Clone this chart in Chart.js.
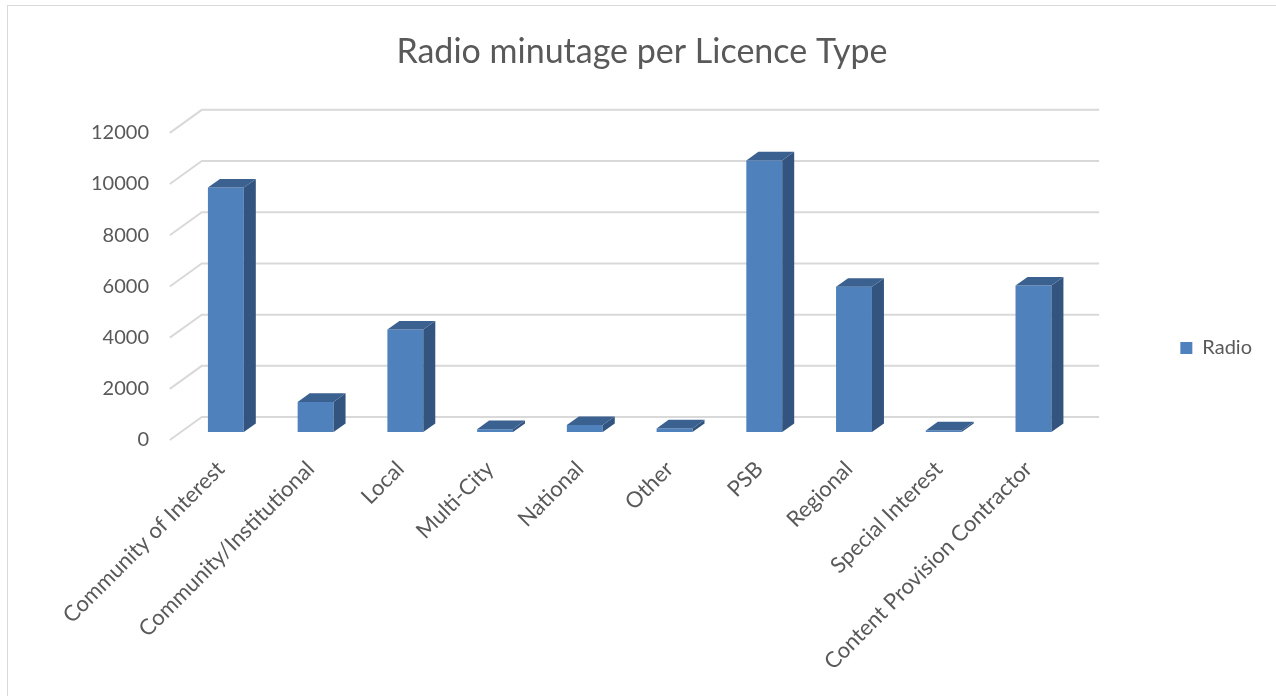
<!DOCTYPE html>
<html lang="en">
<head>
    <meta charset="UTF-8">
    <title>Radio minutage per Licence Type</title>
    <script src="https://cdn.jsdelivr.net/npm/chart.js"></script>
    <style>
        body { margin: 0; background: #ffffff; }
    </style>
</head>
<body>
    <canvas id="minutageChart" width="1276" height="696"></canvas>

    <script>
        // Licence types and radio minutes per type
        const licenceTypes = [
            'Community of Interest',
            'Community/Institutional',
            'Local',
            'Multi-City',
            'National',
            'Other',
            'PSB',
            'Regional',
            'Special Interest',
            'Content Provision Contractor'
        ];
        const radioMinutes = [9550, 1175, 4000, 110, 270, 140, 10610, 5670, 60, 5720];
        const yTicks = [0, 2000, 4000, 6000, 8000, 10000, 12000];

        const textColor = '#595959';
        const gridColor = '#d9d9d9';

        // oblique depth of the plot box, front edge -> back wall
        const depth = { x: 32, y: -23 };
        const barPlane = 0.35;   // where the bar fronts sit inside the box
        const barDepth = 0.375;  // how deep each column is

        // back wall gridlines + the slanted lines on the left wall
        const wallPlugin = {
            id: 'wall',
            beforeDraw(chart) {
                const ctx = chart.ctx;
                ctx.save();
                ctx.strokeStyle = gridColor;
                ctx.lineWidth = 1;
                ctx.strokeRect(7.5, 5.5, chart.width + 20, chart.height + 20);
                ctx.restore();
            },
            beforeDatasetsDraw(chart) {
                const ctx = chart.ctx;
                const y = chart.scales.y;
                const area = chart.chartArea;
                const back = 1 - barPlane;
                ctx.save();
                ctx.strokeStyle = gridColor;
                ctx.lineWidth = 2;
                yTicks.forEach(v => {
                    const py = y.getPixelForValue(v);
                    const bx = area.left + depth.x * back;
                    const by = py + depth.y * back;
                    ctx.beginPath();
                    ctx.moveTo(area.left - depth.x * barPlane, py - depth.y * barPlane);
                    ctx.lineTo(bx, by);
                    ctx.lineTo(area.right + depth.x * back, by);
                    ctx.stroke();
                });
                ctx.restore();
            },
            afterDatasetsDraw(chart) {
                const ctx = chart.ctx;
                const dx = depth.x * barDepth;
                const dy = depth.y * barDepth;
                ctx.save();
                chart.getDatasetMeta(0).data.forEach(bar => {
                    const { x, y, base, width } = bar.getProps(['x', 'y', 'base', 'width'], true);
                    const left = x - width / 2;
                    const right = x + width / 2;
                    // side face
                    ctx.fillStyle = '#32547e';
                    ctx.beginPath();
                    ctx.moveTo(right, y);
                    ctx.lineTo(right + dx, y + dy);
                    ctx.lineTo(right + dx, base + dy);
                    ctx.lineTo(right, base);
                    ctx.closePath();
                    ctx.fill();
                    // top face
                    ctx.fillStyle = '#3b6190';
                    ctx.beginPath();
                    ctx.moveTo(left, y);
                    ctx.lineTo(left + dx, y + dy);
                    ctx.lineTo(right + dx, y + dy);
                    ctx.lineTo(right, y);
                    ctx.closePath();
                    ctx.fill();
                });
                ctx.restore();
            }
        };

        function drawChart() {
            const ctx = document.getElementById('minutageChart').getContext('2d');
            new Chart(ctx, {
                type: 'bar',
                data: {
                    labels: licenceTypes,
                    datasets: [{
                        label: 'Radio',
                        data: radioMinutes,
                        backgroundColor: '#4f81bd',
                        borderWidth: 0,
                        barPercentage: 0.4,
                        categoryPercentage: 1.0
                    }]
                },
                plugins: [wallPlugin],
                options: {
                    responsive: false,
                    animation: false,
                    layout: { padding: { left: 22, right: 14, top: 0, bottom: 0 } },
                    scales: {
                        x: {
                            grid: { display: false, drawTicks: false },
                            border: { display: false },
                            ticks: {
                                color: textColor,
                                font: { family: 'Lato', size: 22 },
                                maxRotation: 45,
                                minRotation: 45,
                                autoSkip: false,
                                padding: 24,
                                labelOffset: -5
                            },
                            afterFit: scale => { scale.height = 264; }
                        },
                        y: {
                            min: 0,
                            max: 12000,
                            grid: { display: false, drawTicks: false },
                            border: { display: false },
                            ticks: {
                                stepSize: 2000,
                                color: textColor,
                                font: { family: 'Lato', size: 20 },
                                padding: 32,
                                labelOffset: 8,
                                callback: value => String(value)
                            },
                            afterFit: scale => { scale.width = 159; }
                        }
                    },
                    plugins: {
                        title: {
                            display: true,
                            text: 'Radio minutage per Licence Type',
                            color: textColor,
                            font: { family: 'Lato', size: 34, weight: 'normal' },
                            padding: { top: 32, bottom: 52 }
                        },
                        legend: {
                            position: 'right',
                            labels: {
                                color: textColor,
                                font: { family: 'Lato', size: 20 },
                                boxWidth: 12,
                                boxHeight: 12,
                                padding: 102
                            }
                        },
                        tooltip: { enabled: false }
                    }
                }
            });
        }

        document.fonts.load('20px Lato').then(drawChart, drawChart);
    </script>
</body>
</html>
